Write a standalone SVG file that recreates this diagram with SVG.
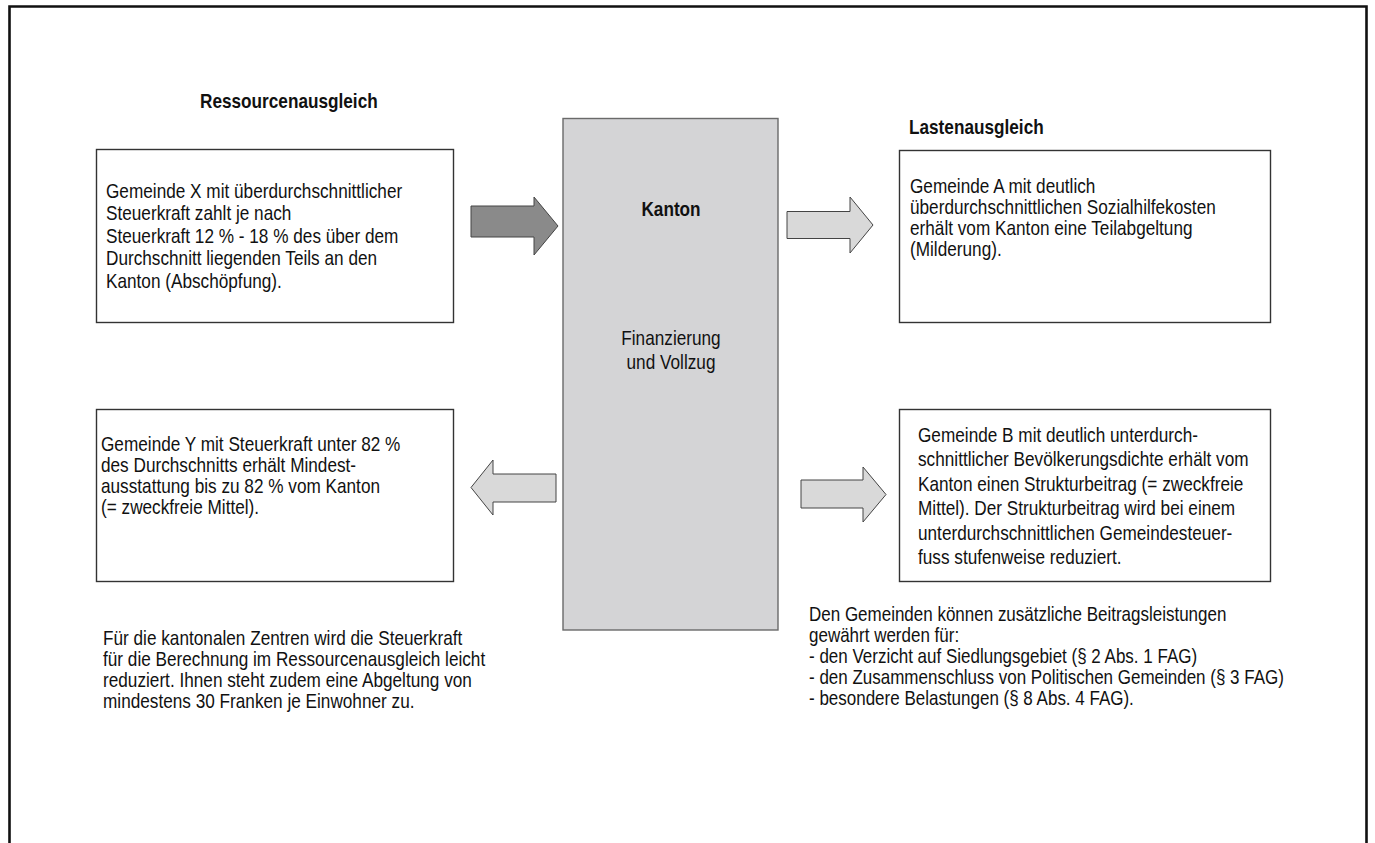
<svg xmlns="http://www.w3.org/2000/svg" width="1375" height="843" viewBox="0 0 1375 843">
<style>
.t{font-family:"Liberation Sans",Arial,sans-serif;font-size:20px;fill:#111}
.b{font-family:"Liberation Sans",Arial,sans-serif;font-size:20px;font-weight:bold;fill:#111}
.box{fill:#fff;stroke:#333;stroke-width:1.4}
.arr{fill:#d9d9d9;stroke:#444;stroke-width:1}
.arrd{fill:#8a8a8a;stroke:#444;stroke-width:1}
</style>
<rect width="1375" height="843" fill="#fff"/>
<path d="M9.5 843 V6.5 H1366.5 V843" fill="none" stroke="#111" stroke-width="2.6"/>

<g id="heading-ressourcen">
<text class="b" transform="translate(200,108) scale(0.86,1)">Ressourcenausgleich</text>
</g>
<g id="heading-lasten">
<text class="b" transform="translate(909,134) scale(0.86,1)">Lastenausgleich</text>
</g>

<g id="kanton">
<rect x="563" y="118.5" width="215" height="511.5" fill="#d4d4d6" stroke="#6a6a6a" stroke-width="1.4"/>
<text class="b" text-anchor="middle" transform="translate(671,216) scale(0.86,1)">Kanton</text>
<text class="t" text-anchor="middle" transform="translate(671,345) scale(0.86,1)"><tspan x="0" y="0">Finanzierung</tspan><tspan x="0" y="24">und Vollzug</tspan></text>
</g>

<g id="gemeinde-x">
<rect class="box" x="96.5" y="149.5" width="357" height="173"/>
<text class="t" transform="translate(106,198) scale(0.86,1)"><tspan x="0" y="0">Gemeinde X mit überdurchschnittlicher</tspan><tspan x="0" y="22.5">Steuerkraft zahlt je nach</tspan><tspan x="0" y="45">Steuerkraft 12 % - 18 % des über dem</tspan><tspan x="0" y="67.5">Durchschnitt liegenden Teils an den</tspan><tspan x="0" y="90">Kanton (Abschöpfung).</tspan></text>
</g>

<g id="gemeinde-y">
<rect class="box" x="96.5" y="409.5" width="357" height="172"/>
<text class="t" transform="translate(101,451) scale(0.86,1)"><tspan x="0" y="0">Gemeinde Y mit Steuerkraft unter 82 %</tspan><tspan x="0" y="21">des Durchschnitts erhält Mindest-</tspan><tspan x="0" y="42">ausstattung bis zu 82 % vom Kanton</tspan><tspan x="0" y="63">(= zweckfreie Mittel).</tspan></text>
</g>

<g id="gemeinde-a">
<rect class="box" x="899.5" y="150.5" width="371" height="172"/>
<text class="t" transform="translate(910,193) scale(0.86,1)"><tspan x="0" y="0">Gemeinde A mit deutlich</tspan><tspan x="0" y="21">überdurchschnittlichen Sozialhilfekosten</tspan><tspan x="0" y="42">erhält vom Kanton eine Teilabgeltung</tspan><tspan x="0" y="63">(Milderung).</tspan></text>
</g>

<g id="gemeinde-b">
<rect class="box" x="899.5" y="409.5" width="371" height="172"/>
<text class="t" transform="translate(918,442) scale(0.86,1)"><tspan x="0" y="0">Gemeinde B mit deutlich unterdurch-</tspan><tspan x="0" y="24.4">schnittlicher Bevölkerungsdichte erhält vom</tspan><tspan x="0" y="48.8">Kanton einen Strukturbeitrag (= zweckfreie</tspan><tspan x="0" y="73.2">Mittel). Der Strukturbeitrag wird bei einem</tspan><tspan x="0" y="97.6">unterdurchschnittlichen Gemeindesteuer-</tspan><tspan x="0" y="122">fuss stufenweise reduziert.</tspan></text>
</g>

<g id="note-zentren">
<text class="t" transform="translate(103,645) scale(0.86,1)"><tspan x="0" y="0">Für die kantonalen Zentren wird die Steuerkraft</tspan><tspan x="0" y="21">für die Berechnung im Ressourcenausgleich leicht</tspan><tspan x="0" y="42">reduziert. Ihnen steht zudem eine Abgeltung von</tspan><tspan x="0" y="63">mindestens 30 Franken je Einwohner zu.</tspan></text>
</g>

<g id="note-beitraege">
<text class="t" transform="translate(809,621) scale(0.85,1)"><tspan x="0" y="0">Den Gemeinden können zusätzliche Beitragsleistungen</tspan><tspan x="0" y="21">gewährt werden für:</tspan><tspan x="0" y="42">- den Verzicht auf Siedlungsgebiet (§ 2 Abs. 1 FAG)</tspan><tspan x="0" y="63">- den Zusammenschluss von Politischen Gemeinden (§ 3 FAG)</tspan><tspan x="0" y="84">- besondere Belastungen (§ 8 Abs. 4 FAG).</tspan></text>
</g>

<g id="connectors">
<polygon class="arrd" points="471,206 534,206 534,197 558,226 534,255 534,237 471,237"/>
<polygon class="arr" points="787,211.5 850,211.5 850,197 873,225 850,253 850,238.5 787,238.5"/>
<polygon class="arr" points="556,474 493,474 493,460 471,487.5 493,515 493,502 556,502"/>
<polygon class="arr" points="801,480 863,480 863,467 886,494.5 863,522 863,508 801,508"/>
</g>
</svg>
